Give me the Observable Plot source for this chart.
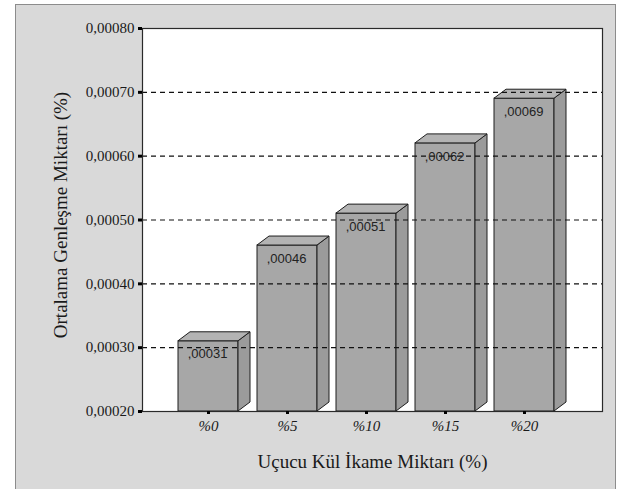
<!DOCTYPE html>
<html>
<head>
<meta charset="utf-8">
<script src="https://cdn.jsdelivr.net/npm/d3@7"></script>
<script src="https://cdn.jsdelivr.net/npm/@observablehq/plot@0.6"></script>
<style>
  html, body { margin: 0; padding: 0; background: #fff; }
  #chart { position: absolute; left: 0; top: 0; width: 622px; height: 489px; }
  #chart svg {
    background: linear-gradient(#d9d9d9, #d9d9d9) 16px 5px / 599px 484px no-repeat,
                linear-gradient(#8c8c8c, #8c8c8c) 15px 4px / 601px 485px no-repeat,
                #ffffff !important;
    font-family: "Liberation Serif", serif !important;
  }
</style>
</head>
<body>
<div id="chart"></div>
<script>
// Fly-ash replacement ratio and mean expansion
const categories = ["%0", "%5", "%10", "%15", "%20"];
const values = [0.00031, 0.00046, 0.00051, 0.00062, 0.00069];
const yTicks = [0.0002, 0.0003, 0.0004, 0.0005, 0.0006, 0.0007, 0.0008];
const gridLines = [0.0003, 0.0004, 0.0005, 0.0006, 0.0007];
const baseline = yTicks[0];

const data = categories.map((cat, i) => ({cat, value: values[i]}));

// bar faces
const frontColor = "#a7a7a7";
const sideColor = "#9b9b9b";
const topColor = "#b3b3b3";
const edgeColor = "#1e1e1e";
const depthX = 12, depthY = 9;

const serif = "Liberation Serif";
const fmtTick = d => d.toFixed(5).replace(".", ",");
const fmtValue = d => d.toFixed(5).replace(/^0\./, ",");

// side and top faces of each bar, placed with the chart's scales
function barDepth(index, scales) {
  const {x, y} = scales;
  const bw = x.bandwidth();
  const g = d3.create("svg:g")
    .attr("stroke", edgeColor)
    .attr("stroke-width", 1)
    .attr("stroke-linejoin", "round");
  for (const d of data) {
    const xl = x(d.cat), xr = xl + bw, yt = y(d.value), yb = y(baseline);
    g.append("path").attr("fill", sideColor)
      .attr("d", `M${xr},${yt}L${xr + depthX},${yt - depthY}L${xr + depthX},${yb - depthY}L${xr},${yb}Z`);
    g.append("path").attr("fill", topColor)
      .attr("d", `M${xl},${yt}L${xl + depthX},${yt - depthY}L${xr + depthX},${yt - depthY}L${xr},${yt}Z`);
  }
  return g.node();
}

const chart = Plot.plot({
  width: 622,
  height: 489,
  marginLeft: 142,
  marginRight: 20,
  marginTop: 28,
  marginBottom: 78,
  x: {domain: categories, range: [166.7, 565.4], paddingInner: 0.235, paddingOuter: 0.1175, align: 0.5},
  y: {domain: [baseline, yTicks[yTicks.length - 1]]},
  marks: [
    Plot.frame({fill: "white"}),
    Plot.barY(data, {x: "cat", y1: baseline, y2: "value", fill: frontColor, stroke: edgeColor, strokeWidth: 1}),
    barDepth,
    Plot.ruleY(gridLines, {stroke: "#111", strokeWidth: 1.2, strokeDasharray: "5,4"}),
    Plot.text(data, {
      x: "cat", y: "value", text: d => fmtValue(d.value),
      dy: 13, dx: -1, fontFamily: "Liberation Sans", fontSize: 13, fill: "#222"
    }),
    Plot.frame({stroke: "#2a2a2a", strokeWidth: 1.2}),
    Plot.axisY({
      ticks: yTicks, tickFormat: fmtTick, tickSize: 4, strokeWidth: 3,
      tickPadding: 4, label: null, fontFamily: serif, fontSize: 15, fill: "#1a1a1a"
    }),
    Plot.axisX({
      tickSize: 3, strokeWidth: 3, tickPadding: 6, label: null,
      fontFamily: serif, fontStyle: "italic", fontSize: 15, fill: "#1a1a1a"
    }),
    Plot.text(["Ortalama Genleşme Miktarı (%)"], {
      frameAnchor: "left", textAnchor: "middle", dx: -82, dy: -5, rotate: -90,
      fontFamily: serif, fontSize: 19, fill: "#1a1a1a"
    }),
    Plot.text(["Uçucu Kül İkame Miktarı (%)"], {
      frameAnchor: "bottom", dy: 56,
      fontFamily: serif, fontSize: 19, fill: "#1a1a1a"
    })
  ]
});

document.getElementById("chart").append(chart);
</script>
</body>
</html>
